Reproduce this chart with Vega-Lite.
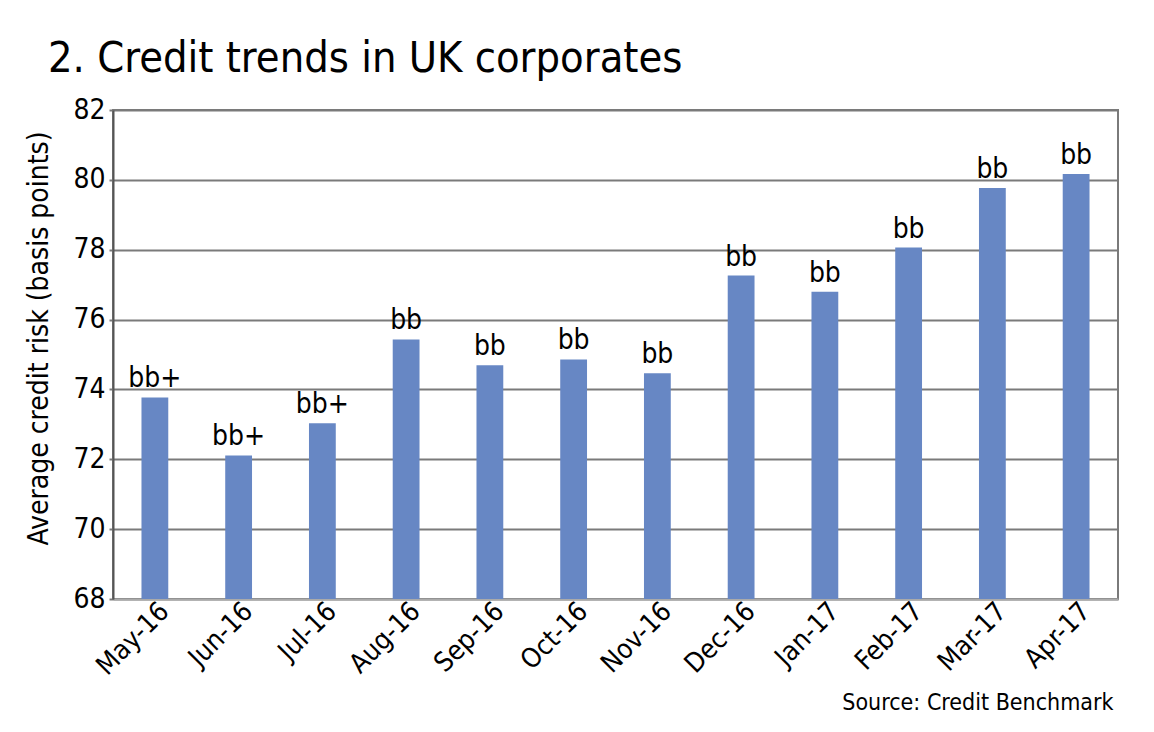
{
  "$schema": "https://vega.github.io/schema/vega-lite/v6.json",
  "autosize": {"type": "none"},
  "width": 1005,
  "height": 489,
  "padding": {"left": 113, "top": 110, "right": 36, "bottom": 133},
  "background": "white",
  "title": {
    "text": "2. Credit trends in UK corporates",
    "anchor": "start",
    "frame": "group",
    "orient": "top",
    "baseline": "alphabetic",
    "offset": 43,
    "dx": -65,
    "dy": 62,
    "font": "DejaVu Sans Condensed",
    "fontSize": 43,
    "fontWeight": "normal",
    "color": "#000000"
  },
  "data": {
    "values": [
      {"month": "May-16", "value": 73.77, "rating": "bb+"},
      {"month": "Jun-16", "value": 72.11, "rating": "bb+"},
      {"month": "Jul-16", "value": 73.03, "rating": "bb+"},
      {"month": "Aug-16", "value": 75.43, "rating": "bb"},
      {"month": "Sep-16", "value": 74.69, "rating": "bb"},
      {"month": "Oct-16", "value": 74.86, "rating": "bb"},
      {"month": "Nov-16", "value": 74.46, "rating": "bb"},
      {"month": "Dec-16", "value": 77.26, "rating": "bb"},
      {"month": "Jan-17", "value": 76.8, "rating": "bb"},
      {"month": "Feb-17", "value": 78.06, "rating": "bb"},
      {"month": "Mar-17", "value": 79.77, "rating": "bb"},
      {"month": "Apr-17", "value": 80.17, "rating": "bb"}
    ]
  },
  "encoding": {
    "x": {
      "field": "month",
      "type": "nominal",
      "sort": null,
      "scale": {"paddingInner": 0.68, "paddingOuter": 0.34},
      "axis": {
        "title": "Source: Credit Benchmark",
        "titleAnchor": "end",
        "titleAlign": "right",
        "titleBaseline": "alphabetic",
        "titleX": 1000,
        "titleY": 110,
        "titleFont": "DejaVu Sans Condensed",
        "titleFontSize": 23,
        "titleFontWeight": "normal",
        "titleColor": "#000000",
        "labelAngle": -45,
        "labelAlign": "right",
        "labelBaseline": "middle",
        "labelFont": "DejaVu Sans Condensed",
        "labelFontSize": 27,
        "labelColor": "#000000",
        "labelPadding": 8,
        "labelOffset": 10,
        "labelLimit": 0,
        "ticks": false,
        "domainColor": "#aaaaaa",
        "domainWidth": 2
      }
    },
    "y": {
      "field": "value",
      "type": "quantitative",
      "scale": {"domain": [68, 82], "zero": false, "nice": false},
      "axis": {
        "title": "Average credit risk (basis points)",
        "titleFont": "DejaVu Sans Condensed",
        "titleFontSize": 28,
        "titleFontWeight": "normal",
        "titleColor": "#000000",
        "titleX": -60,
        "titleY": 228,
        "values": [68, 70, 72, 74, 76, 78, 80, 82],
        "labelFont": "DejaVu Sans Condensed",
        "labelFontSize": 28,
        "labelColor": "#000000",
        "labelPadding": 4,
        "ticks": true,
        "tickSize": 4,
        "tickColor": "#7a7a7a",
        "tickWidth": 2,
        "grid": true,
        "gridColor": "#7a7a7a",
        "gridWidth": 2,
        "domainColor": "#555555",
        "domainWidth": 2
      }
    }
  },
  "layer": [
    {"mark": {"type": "bar", "color": "#6787c4", "clip": true}},
    {
      "mark": {
        "type": "text",
        "baseline": "alphabetic",
        "dy": -10,
        "font": "DejaVu Sans Condensed",
        "fontSize": 28,
        "color": "#000000"
      },
      "encoding": {"text": {"field": "rating"}}
    }
  ],
  "config": {
    "view": {"stroke": "#7a7a7a", "strokeWidth": 2}
  }
}
